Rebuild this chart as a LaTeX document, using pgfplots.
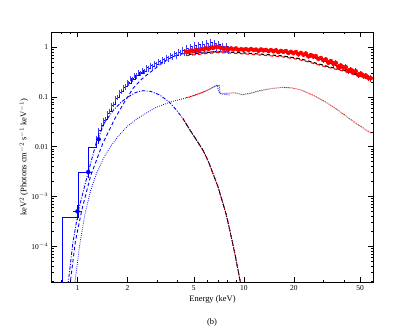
\documentclass[border=0pt]{standalone}
\usepackage{fontspec}
\setmainfont{Liberation Serif}
\usepackage{pgfplots}
\usepackage{pgfplotstable}
\pgfplotsset{compat=1.18}

\pgfplotsset{
  dsh/.style={dash pattern=on 3.5pt off 2.5pt},
  dshdot/.style={dash pattern=on 3.5pt off 1.5pt on 1pt off 1.5pt},
  dtt/.style={dash pattern=on 0.8pt off 1.3pt},
}

% low-energy spectrum (blue), bins: left edge, value, relative error
\pgfplotstableread{
x y ey
0.813 1e-6 0
0.813 3.7e-4 0
1.01 3.1e-3 0
1.166 0.0097 0
1.293 0.0148 0.12
1.337 0.0217 0.12
1.386 0.027 0.12
1.425 0.033 0.12
1.465 0.036 0.12
1.506 0.047 0.12
1.548 0.052 0.12
1.591 0.068 0.12
1.636 0.071 0.12
1.682 0.094 0.12
1.729 0.097 0.12
1.777 0.125 0.12
1.827 0.128 0.12
1.878 0.158 0.12
1.931 0.16 0.12
1.985 0.192 0.12
2.040 0.19 0.12
2.097 0.235 0.12
2.156 0.228 0.12
2.216 0.275 0.12
2.278 0.266 0.12
2.342 0.31 0.12
2.408 0.295 0.12
2.475 0.345 0.12
2.544 0.33 0.12
2.615 0.385 0.12
2.689 0.37 0.12
2.764 0.43 0.12
2.841 0.405 0.12
2.921 0.47 0.12
3.003 0.45 0.12
3.087 0.52 0.12
3.173 0.49 0.12
3.262 0.57 0.13
3.353 0.54 0.13
3.447 0.62 0.13
3.544 0.59 0.13
3.643 0.68 0.13
3.745 0.64 0.13
3.849 0.74 0.13
3.957 0.69 0.14
4.068 0.80 0.14
4.182 0.76 0.14
4.299 0.87 0.14
4.419 0.80 0.15
4.543 0.95 0.15
4.670 0.86 0.15
4.800 1.02 0.15
4.935 0.90 0.16
5.073 1.08 0.16
5.215 0.93 0.16
5.361 1.12 0.16
5.511 0.96 0.17
5.665 1.16 0.17
5.824 0.99 0.17
5.987 1.20 0.17
6.155 1.02 0.17
6.327 1.24 0.17
6.504 1.05 0.17
6.686 1.22 0.17
6.874 1.02 0.17
7.066 1.12 0.17
7.264 0.95 0.17
7.468 1.06 0.17
7.677 0.92 0.17
7.892 1.02 0.17
8.113 0.90 0.17
8.340 0.90 0
}\bluedata

% hard X-ray spectrum (red)
\pgfplotstableread{
x y ey
4.50 0.82 0.07
4.66 0.80 0.07
4.82 0.86 0.07
4.99 0.84 0.07
5.16 0.89 0.07
5.35 0.85 0.07
5.53 0.92 0.07
5.73 0.91 0.07
5.93 0.96 0.07
6.14 0.925 0.07
6.35 0.99 0.07
6.58 0.98 0.07
6.81 1.03 0.07
7.05 1.01 0.07
7.29 0.97 0.07
7.55 0.93 0.07
7.82 0.95 0.07
8.09 0.91 0.07
8.38 0.95 0.07
8.67 0.91 0.07
8.97 0.95 0.07
9.29 0.88 0.07
9.62 0.92 0.07
9.95 0.89 0.07
10.30 0.92 0.08
10.67 0.875 0.08
11.04 0.925 0.08
11.43 0.88 0.08
11.83 0.90 0.08
12.25 0.85 0.08
12.68 0.905 0.08
13.12 0.865 0.08
13.58 0.885 0.08
14.06 0.835 0.08
14.55 0.88 0.09
15.07 0.83 0.09
15.60 0.87 0.09
16.14 0.80 0.09
16.71 0.845 0.09
17.30 0.81 0.09
17.91 0.84 0.09
18.54 0.77 0.09
19.19 0.81 0.09
19.86 0.76 0.09
20.56 0.805 0.10
21.28 0.725 0.10
22.03 0.77 0.10
22.80 0.71 0.10
23.60 0.75 0.10
24.43 0.66 0.10
25.29 0.70 0.11
26.18 0.65 0.11
27.10 0.665 0.11
28.05 0.585 0.11
29.04 0.61 0.11
30.06 0.55 0.11
31.12 0.57 0.12
32.21 0.49 0.12
33.34 0.53 0.12
34.51 0.465 0.12
35.73 0.485 0.13
36.98 0.405 0.13
38.28 0.43 0.13
39.63 0.39 0.13
41.02 0.40 0.14
42.46 0.335 0.14
43.95 0.355 0.14
45.50 0.315 0.14
47.10 0.33 0.14
48.75 0.277 0.14
50.47 0.296 0.15
52.24 0.27 0.15
54.08 0.27 0.15
55.98 0.242 0.15
57.94 0.238 0.15
}\reddata

\begin{document}
\begin{tikzpicture}
\path[use as bounding box] (-51.7bp,-50bp) rectangle (363.3bp,282bp);
\begin{axis}[
  at={(0,0)}, anchor=south west,
  scale only axis, width=321.6bp, height=250bp,
  xmode=log, ymode=log,
  xmin=0.7, xmax=60, ymin=1.9e-5, ymax=2.03,
  xtick={1,2,5,10,20,50}, xticklabels={1,2,5,10,20,50},
  minor xtick={0.7,0.8,0.9,3,4,6,7,8,9,30,40,60},
  ytick={1e-4,1e-3,0.01,0.1,1},
  yticklabels={10$^{-4}$,10$^{-3}$,0.01,0.1,1},
  minor ytick={2e-5,3e-5,4e-5,5e-5,6e-5,7e-5,8e-5,9e-5,
    2e-4,3e-4,4e-4,5e-4,6e-4,7e-4,8e-4,9e-4,
    2e-3,3e-3,4e-3,5e-3,6e-3,7e-3,8e-3,9e-3,
    0.02,0.03,0.04,0.05,0.06,0.07,0.08,0.09,
    0.2,0.3,0.4,0.5,0.6,0.7,0.8,0.9,2},
  tick align=inside,
  major tick length=5bp, minor tick length=2.5bp,
  every tick/.style={black, line width=0.5pt},
  axis line style={line width=0.8pt},
  ticklabel style={font=\fontsize{7.5}{9}\selectfont},
  label style={font=\fontsize{8.5}{10}\selectfont},
  xlabel={Energy (keV)},
  ylabel={keV$^2$ (Photons cm$^{-2}$ s$^{-1}$ keV$^{-1}$)},
  xlabel style={at={(axis description cs:0.5,-0.069)}, anchor=center},
  ylabel style={at={(axis description cs:-0.086,0.5)}, anchor=center},
  clip=true,
]
% blue model components
\addplot[blue, line width=0.9pt, dshdot] coordinates {
(0.86,1.2e-5) (0.883,2.0e-5) (0.937,1.13e-4) (1.014,5.3e-4) (1.142,2.5e-3) (1.293,0.0117)
(1.45,0.03) (1.65,0.055) (1.84,0.08) (2.06,0.105) (2.26,0.125) (2.48,0.134)
(2.75,0.13) (3.12,0.11) (3.55,0.08) (3.93,0.055) (4.3,0.037) (4.73,0.022)
(5.2,0.0135) (5.67,0.0086) (6.1,0.0052) (6.52,0.0029) (7.0,0.00155) (7.33,9.2e-4)
(7.8,4.6e-4) (8.23,2.1e-4) (8.8,7.5e-5) (9.5,2.0e-5) (9.6,1.5e-5)};
\addplot[blue, line width=0.9pt, dsh] coordinates {
(0.89,1.2e-5) (0.908,2.0e-5) (0.97,1.2e-4) (1.061,5.3e-4) (1.2,2.6e-3) (1.42,0.0117)
(1.68,0.037) (1.92,0.08) (2.16,0.15) (2.4,0.22) (2.72,0.31) (3.12,0.44)
(3.5,0.57) (3.84,0.67) (4.3,0.74) (5.0,0.78) (5.8,0.80) (6.5,0.81) (7.2,0.81) (8.2,0.80)};
\addplot[blue, line width=0.8pt, dtt] coordinates {
(0.95,1.2e-5) (0.967,1.95e-5) (1.032,1.07e-4) (1.106,4.3e-4) (1.2,1.3e-3) (1.3,2.9e-3)
(1.42,5.5e-3) (1.56,9.5e-3) (1.75,0.016) (2.0,0.026) (2.3,0.037) (2.6,0.048) (2.98,0.062)
(3.59,0.079) (4.73,0.10) (5.87,0.132) (6.4,0.152) (6.87,0.174) (7.17,0.117) (7.8,0.112) (8.2,0.11)};
% red model components
\addplot[red, line width=1.1pt, dsh] coordinates {
(4.5,0.68) (5.44,0.725) (6.0,0.75) (6.83,0.78) (8.0,0.77) (10.8,0.725) (14,0.68)
(17.2,0.64) (21,0.575) (24,0.515) (27.3,0.455) (33,0.385) (39.3,0.335) (45,0.288)
(50,0.255) (54,0.24) (58.3,0.226)};
\addplot[red, line width=0.9pt, dshdot] coordinates {
(4.3,0.037) (4.73,0.022) (5.2,0.0135) (5.67,0.0086) (6.1,0.0052) (6.52,0.0029)
(7.0,0.00155) (7.33,9.2e-4) (7.8,4.6e-4) (8.23,2.1e-4) (8.8,7.5e-5) (9.5,2.0e-5) (9.6,1.5e-5)};
\addplot[red, line width=0.8pt, dtt] coordinates {
(4.5,0.097) (5.0,0.107) (5.5,0.12) (6.0,0.135) (6.4,0.152) (6.87,0.17) (7.1,0.174)
(7.2,0.118) (8.0,0.12) (8.8,0.122) (9.8,0.112) (11,0.12) (12.5,0.135) (14.5,0.148)
(17,0.157) (19.5,0.153) (22,0.14) (24.5,0.12) (27.3,0.101) (30.5,0.082) (34.4,0.064)
(38.5,0.049) (43.2,0.037) (48,0.029) (53,0.023) (58.3,0.019)};
% black model components
\addplot[black, line width=1.1pt, dsh, dash phase=3pt] coordinates {
(4.5,0.71) (5.44,0.757) (6.0,0.785) (6.83,0.815) (8.0,0.805) (10.8,0.757) (14,0.71)
(17.2,0.668) (21,0.60) (24,0.54) (27.3,0.476) (33,0.40) (39.3,0.35) (45,0.30)
(50,0.262) (54,0.247) (58.3,0.232)};
\addplot[black, line width=0.8pt, dshdot, dash phase=2pt] coordinates {
(4.3,0.037) (4.73,0.022) (5.2,0.0135) (5.67,0.0086) (6.1,0.0052) (6.52,0.0029)
(7.0,0.00155) (7.33,9.2e-4) (7.8,4.6e-4) (8.23,2.1e-4) (8.8,7.5e-5) (9.5,2.0e-5) (9.6,1.5e-5)};
\addplot[gray, line width=0.7pt, dtt, dash phase=1pt] coordinates {
(4.5,0.095) (5.0,0.105) (5.5,0.118) (6.0,0.133) (6.4,0.15) (6.87,0.168) (7.1,0.172)
(7.2,0.116) (8.0,0.118) (8.8,0.12) (9.8,0.11) (11,0.118) (12.5,0.133) (14.5,0.146)
(17,0.155) (19.5,0.151) (22,0.138) (24.5,0.118) (27.3,0.099) (30.5,0.08) (34.4,0.063)
(38.5,0.048) (43.2,0.036) (48,0.028) (53,0.0225) (58.3,0.0185)};
% blue data
\addplot[blue, line width=0.9pt, const plot,
  error bars/.cd, y dir=both, y explicit relative,
  error bar style={blue!75, line width=1pt}, error mark=none]
  table[x=x, y=y, y error=ey] {\bluedata};
\addplot[blue, only marks, mark options={draw=none, fill=none},
  error bars/.cd, x dir=both, x explicit, y dir=both, y explicit,
  error bar style={blue, line width=0.7pt}, error mark=none]
  coordinates {(1.0,5.0e-4) +- (0.06,1.6e-4) (1.16,3.1e-3) +- (0.07,7e-4) (1.34,0.0141) +- (0.05,0.0025)};
% red data
\addplot[red, only marks, mark options={draw=none, fill=none},
  error bars/.cd, x dir=both, x explicit relative, y dir=both, y explicit relative,
  error bar style={red, line width=0.8pt}, error mark=none]
  table[x=x, y=y, x error expr=0.03, y error=ey] {\reddata};
% best-fit model
\addplot[black, line width=0.9pt] coordinates {
(4.5,0.80) (5.0,0.84) (5.5,0.88) (6.0,0.92) (6.4,0.96) (6.8,1.0) (7.05,1.02) (7.15,0.95)
(7.6,0.93) (8.6,0.91) (10,0.89) (12,0.87) (14,0.845) (17.2,0.80) (20,0.76) (23,0.71)
(27.3,0.61) (30,0.55) (33,0.49) (36,0.435) (39.3,0.385) (43,0.34) (47,0.30) (52,0.265) (58.3,0.237)};
\end{axis}
\node[font=\fontsize{8.5}{10}\selectfont] at (160.3bp,-40.7bp) {(b)};
\end{tikzpicture}
\end{document}
